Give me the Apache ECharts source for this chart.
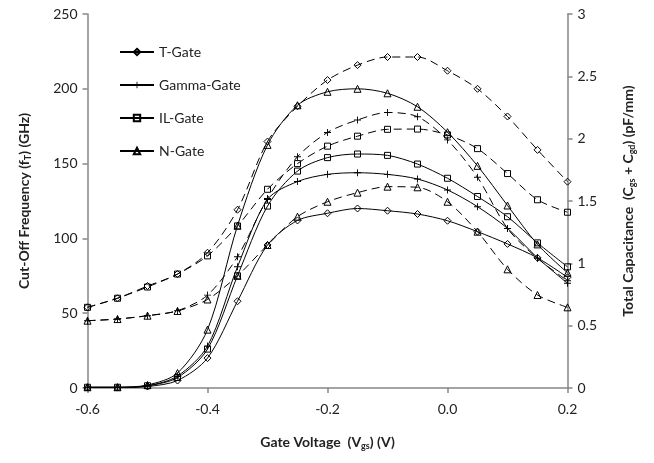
<!DOCTYPE html>
<html>
<head>
<meta charset="utf-8">
<script src="https://cdn.jsdelivr.net/npm/echarts@6/dist/echarts.min.js"></script>
<style>
  html, body { margin: 0; padding: 0; background: #fff; }
  #chartData { width: 654px; height: 463px; }
</style>
</head>
<body>
<div id="chartData"></div>
<script>
// gate voltage (V)
var vgs = [-0.6, -0.55, -0.5, -0.45, -0.4, -0.35, -0.3, -0.25, -0.2, -0.15, -0.1, -0.05, 0, 0.05, 0.1, 0.15, 0.2];

// cut-off frequency fT (GHz), left axis
var ftTGate     = [0.3, 0.3, 1, 5, 20, 58, 95.6, 112, 116.8, 120, 118.5, 116.3, 111.8, 104.5, 96.3, 87, 74];
var ftGammaGate = [0.5, 0.5, 1.5, 8, 28, 81, 126, 138, 142.8, 143.9, 142.8, 139.7, 132.4, 121.2, 106.7, 87, 70];
var ftILGate    = [0.5, 0.5, 1.5, 7, 26, 75, 121.6, 145, 154, 156.4, 155.5, 149.7, 140.2, 128, 114.5, 97, 81];
var ftNGate     = [0.5, 0.5, 2, 10, 39, 108.5, 162.5, 189, 198, 200, 197, 188, 171, 148.5, 122, 96, 77];

// total capacitance Cgs + Cgd (pF/mm), right axis
var cTGate     = [0.647, 0.72, 0.818, 0.914, 1.085, 1.43, 1.977, 2.26, 2.47, 2.59, 2.655, 2.655, 2.545, 2.40, 2.178, 1.91, 1.655];
var cGammaGate = [0.54, 0.553, 0.58, 0.62, 0.745, 1.053, 1.52, 1.855, 2.05, 2.15, 2.21, 2.176, 1.99, 1.69, 1.28, 1.04, 0.86];
var cILGate    = [0.647, 0.72, 0.81, 0.914, 1.06, 1.30, 1.594, 1.80, 1.94, 2.02, 2.075, 2.077, 2.03, 1.92, 1.72, 1.51, 1.41];
var cNGate     = [0.54, 0.553, 0.58, 0.618, 0.71, 0.90, 1.147, 1.374, 1.494, 1.567, 1.615, 1.61, 1.494, 1.254, 0.952, 0.746, 0.647];

var gateNames = ['T-Gate', 'Gamma-Gate', 'IL-Gate', 'N-Gate'];

// excel style markers
var plusIcon = 'path://M4.35,0H5.65V4.35H10V5.65H5.65V10H4.35V5.65H0V4.35H4.35Z';
var markers = ['diamond', plusIcon, 'rect', 'triangle'];
var markerSize = [7, 7, 6, 7];

var fontName = 'Lato, "Liberation Sans", sans-serif';

function pairs(ys) {
    var out = [];
    for (var i = 0; i < vgs.length; i++) {
        out.push([vgs[i], ys[i]]);
    }
    return out;
}

function makeSeries(idx, ys, yIndex, dashed) {
    var isPlus = idx === 1;
    return {
        name: gateNames[idx],
        type: 'line',
        yAxisIndex: yIndex,
        smooth: 0.3,
        symbol: markers[idx],
        symbolSize: markerSize[idx],
        showAllSymbol: true,
        lineStyle: {
            color: '#000',
            width: 1,
            type: dashed ? [8, 5] : 'solid'
        },
        itemStyle: {
            color: isPlus ? '#000' : 'rgba(0,0,0,0)',
            borderColor: '#000',
            borderWidth: isPlus ? 0 : 1
        },
        emphasis: { disabled: true },
        data: pairs(ys)
    };
}

var myChart = echarts.init(document.getElementById('chartData'));

var axisLineStyle = { color: '#868686', width: 1.5 };
var subRich = function () {
    return {
        b: { fontSize: 14, fontWeight: 'bold', color: '#222', fontFamily: fontName },
        s: { fontSize: 9, fontWeight: 'bold', color: '#222', fontFamily: fontName, verticalAlign: 'bottom', padding: [8, 0, 0, 0] }
    };
};

var option = {
    animation: false,
    textStyle: { fontFamily: fontName },
    grid: {
        left: 87.5,
        right: 86.5,
        top: 14,
        bottom: 75
    },
    legend: {
        data: gateNames,
        orient: 'vertical',
        left: 114,
        top: 40,
        itemGap: 19,
        itemWidth: 34,
        itemHeight: 8,
        textStyle: { color: '#222', fontSize: 14, fontFamily: fontName }
    },
    xAxis: {
        type: 'value',
        min: -0.6,
        max: 0.2,
        interval: 0.2,
        name: '{b|Gate Voltage  (V}{s|gs}{b|) (V)}',
        nameLocation: 'middle',
        nameGap: 46,
        nameTextStyle: { rich: subRich() },
        axisLine: { onZero: false, lineStyle: axisLineStyle },
        axisTick: { inside: false, length: 5, lineStyle: axisLineStyle },
        splitLine: { show: false },
        axisLabel: {
            margin: 14,
            color: '#222',
            fontSize: 14,
            fontFamily: fontName,
            formatter: function (v) {
                if (Math.abs(v) < 1e-9) return '0.0';
                return v.toFixed(1);
            }
        }
    },
    yAxis: [{
        type: 'value',
        position: 'left',
        min: 0,
        max: 250,
        interval: 50,
        name: '{b|Cut-Off Frequency (f}{s|T}{b|) (GHz)}',
        nameLocation: 'middle',
        nameGap: 55,
        nameRotate: 90,
        nameTextStyle: { rich: subRich() },
        axisLine: { show: true, onZero: false, lineStyle: axisLineStyle },
        axisTick: { show: true, inside: false, length: 5, lineStyle: axisLineStyle },
        splitLine: { show: false },
        axisLabel: { margin: 10, color: '#222', fontSize: 14, fontFamily: fontName }
    }, {
        type: 'value',
        position: 'right',
        min: 0,
        max: 3,
        interval: 0.5,
        name: '{b|Total Capacitance  (C}{s|gs}{b| + C}{s|gd}{b|) (pF/mm)}',
        nameLocation: 'middle',
        nameGap: 52,
        nameRotate: 90,
        nameTextStyle: { rich: subRich() },
        axisLine: { show: true, onZero: false, lineStyle: axisLineStyle },
        axisTick: { show: true, inside: false, length: 5, lineStyle: axisLineStyle },
        splitLine: { show: false },
        axisLabel: { margin: 10, color: '#222', fontSize: 14, fontFamily: fontName }
    }],
    series: [
        makeSeries(0, ftTGate, 0, false),
        makeSeries(1, ftGammaGate, 0, false),
        makeSeries(2, ftILGate, 0, false),
        makeSeries(3, ftNGate, 0, false),
        makeSeries(0, cTGate, 1, true),
        makeSeries(1, cGammaGate, 1, true),
        makeSeries(2, cILGate, 1, true),
        makeSeries(3, cNGate, 1, true)
    ]
};

myChart.setOption(option);
</script>
</body>
</html>
